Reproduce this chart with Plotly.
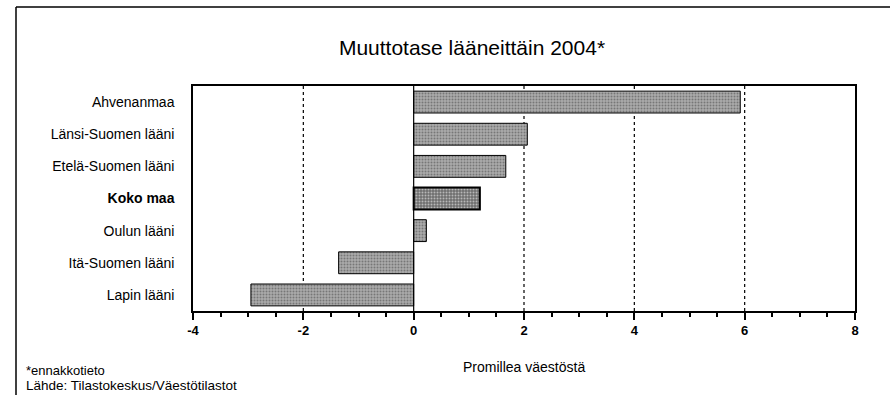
import plotly.graph_objects as go

# Net migration per 1000 inhabitants by province, 2004 (preliminary)
regions = ["Ahvenanmaa", "Länsi-Suomen lääni", "Etelä-Suomen lääni", "Koko maa",
           "Oulun lääni", "Itä-Suomen lääni", "Lapin lääni"]
values = [5.92, 2.06, 1.67, 1.2, 0.23, -1.36, -2.95]
tick_vals = [-4, -2, 0, 2, 4, 6, 8]
tick_text = ["-4", "-2", "0", "2", "4", "6", "8"]

FONT = "Liberation Sans, Arial, sans-serif"

# plot area in pixels
W, H = 890, 395
L, R, T, B = 193, 855, 86, 311


def px(x):
    return (x - L) / (R - L)


def py(y):
    return (B - y) / (B - T)


fill = ["#6e6e6e" if r == "Koko maa" else "#ababab" for r in regions]
line_w = [2 if r == "Koko maa" else 1 for r in regions]
ylabels = ["<b>Koko maa</b>" if r == "Koko maa" else r for r in regions]

fig = go.Figure()
fig.add_trace(go.Bar(
    x=values, y=ylabels, orientation="h",
    marker=dict(color=fill, line=dict(color="black", width=line_w),
                pattern=dict(shape=".", size=3, solidity=0.35, fgcolor="#ffffff",
                             fillmode="overlay")),
    width=0.68, hoverinfo="skip",
))

# dotted reference lines at the major ticks (the zero line is drawn solid)
for v in tick_vals:
    if v in (-4, 0, 8):
        continue
    fig.add_shape(type="line", x0=v, x1=v, y0=0, y1=1, xref="x", yref="y domain",
                  line=dict(color="black", width=1.2, dash="dot"), layer="below")
fig.add_shape(type="line", x0=0, x1=0, y0=0, y1=1, xref="x", yref="y domain",
              line=dict(color="black", width=1.2), layer="above")

# outer frame (top and left edges)
fig.add_shape(type="line", x0=px(16), x1=px(W), y0=py(7), y1=py(7), xref="paper", yref="paper",
              line=dict(color="black", width=1.5))
fig.add_shape(type="line", x0=px(16), x1=px(16), y0=py(H), y1=py(7), xref="paper", yref="paper",
              line=dict(color="black", width=1.5))

fig.update_layout(
    width=W, height=H,
    margin=dict(l=L, r=W - R, t=T, b=H - B),
    paper_bgcolor="white", plot_bgcolor="white",
    showlegend=False,
    font=dict(family=FONT, color="black", size=14),
    title=dict(text="Muuttotase lääneittäin 2004*", x=472 / W, xanchor="center",
               y=1 - 48 / H, yanchor="middle", font=dict(size=21, family=FONT)),
    xaxis=dict(range=[-4, 8], tickvals=tick_vals, ticktext=tick_text, ticks="outside",
               ticklen=7, tickwidth=1.5,
               tickcolor="black", showgrid=False, zeroline=False, showline=True,
               linecolor="black", linewidth=1.5, mirror=True,
               tickfont=dict(size=13, family=FONT, weight="bold"),
               minor=dict(dtick=0.5, ticks="outside", ticklen=4, tickcolor="black", showgrid=False)),
    yaxis=dict(autorange="reversed", showgrid=False, zeroline=False, showline=True,
               linecolor="black", linewidth=1.5, mirror=True, ticks="", ticklabelstandoff=14,
               tickfont=dict(size=14, family=FONT)),
    bargap=0.32,
)

fig.add_annotation(text="Promillea väestöstä", x=px(524), y=py(367), xref="paper", yref="paper",
                   xanchor="center", yanchor="middle", showarrow=False, font=dict(size=14))
fig.add_annotation(text="*ennakkotieto", x=px(24), y=py(370),
                   xref="paper", yref="paper", xanchor="left", yanchor="middle", align="left",
                   showarrow=False, font=dict(size=13))
fig.add_annotation(text="Lähde: Tilastokeskus/Väestötilastot", x=px(24), y=py(385),
                   xref="paper", yref="paper", xanchor="left", yanchor="middle", align="left",
                   showarrow=False, font=dict(size=13.5))

fig.write_html("out.html")
